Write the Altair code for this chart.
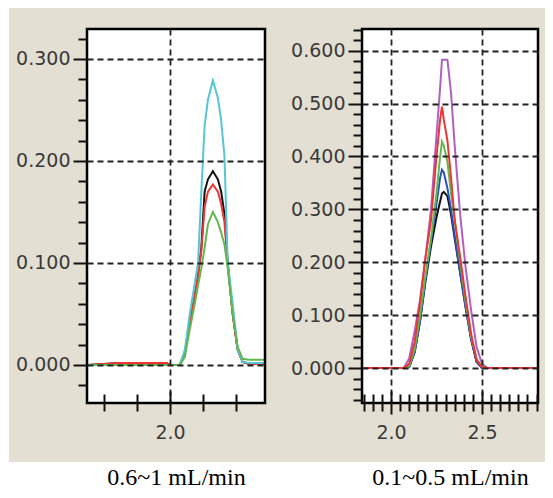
import altair as alt
import pandas as pd

# ---------------- data: left panel (0.6~1 mL/min) ----------------
left_x = [1.75, 1.85, 1.99, 2.00, 2.03, 2.045, 2.06, 2.075, 2.085, 2.095, 2.105,
          2.115, 2.13, 2.145, 2.155, 2.165, 2.175, 2.19, 2.205, 2.22, 2.24, 2.288]
left_cyan = [0, 0, 0, 0, 0, 0.015, 0.05, 0.08, 0.10, 0.17, 0.235,
             0.26, 0.279, 0.262, 0.24, 0.205, 0.10, 0.06, 0.015, 0.003, 0.002, 0.002]
left_black = [0, 0.002, 0.002, 0, 0, 0.012, 0.04, 0.068, 0.088, 0.115, 0.17,
              0.182, 0.19, 0.182, 0.17, 0.148, 0.10, 0.05, 0.015, 0.003, 0.001, 0.001]
left_red = [0, 0.002, 0.002, 0, 0, 0.012, 0.04, 0.068, 0.088, 0.112, 0.155,
            0.17, 0.177, 0.17, 0.158, 0.14, 0.098, 0.05, 0.015, 0.003, 0.001, 0.001]
left_green = [0, 0, 0, 0, 0, 0.008, 0.035, 0.06, 0.078, 0.095, 0.115,
              0.138, 0.15, 0.14, 0.13, 0.118, 0.095, 0.05, 0.018, 0.006, 0.005, 0.005]

# ---------------- data: right panel (0.1~0.5 mL/min) ----------------
right_x = [1.84, 2.0, 2.07, 2.1, 2.13, 2.16, 2.19, 2.22, 2.25, 2.27, 2.28,
           2.29, 2.31, 2.33, 2.35, 2.38, 2.41, 2.44, 2.47, 2.5, 2.53, 2.807]
right_purple = [0, 0, 0, 0.018, 0.07, 0.13, 0.21, 0.30, 0.44, 0.53, 0.583,
                0.583, 0.583, 0.52, 0.42, 0.29, 0.19, 0.11, 0.04, 0.008, 0, 0]
right_black = [0, 0, 0, 0.002, 0.03, 0.09, 0.165, 0.23, 0.285, 0.315, 0.33,
               0.333, 0.325, 0.29, 0.245, 0.18, 0.115, 0.055, 0.012, 0, 0, 0]
right_blue = [0, 0, 0, 0.002, 0.03, 0.09, 0.17, 0.24, 0.31, 0.36, 0.375,
              0.37, 0.34, 0.30, 0.25, 0.18, 0.115, 0.055, 0.012, 0, 0, 0]
right_green = [0, 0, 0, 0.003, 0.035, 0.10, 0.175, 0.245, 0.33, 0.40, 0.428,
               0.42, 0.39, 0.33, 0.28, 0.2, 0.125, 0.06, 0.018, 0.002, 0, 0]
right_red = [0, 0, 0, 0.008, 0.05, 0.125, 0.21, 0.28, 0.40, 0.47, 0.494,
             0.47, 0.43, 0.36, 0.28, 0.21, 0.135, 0.065, 0.015, 0.002, 0, 0]

# axis ticks
left_x_major = [2.0]
left_x_minor = [1.8, 1.9, 2.1, 2.2]
left_y_major = [0.0, 0.1, 0.2, 0.3]
left_y_minor = [-0.02, 0.02, 0.04, 0.06, 0.08, 0.12, 0.14, 0.16, 0.18, 0.22, 0.24,
                0.26, 0.28, 0.32]
right_x_major = [2.0, 2.5]
right_x_minor = [1.85, 1.9, 1.95, 2.05, 2.1, 2.15, 2.2, 2.25, 2.3, 2.35, 2.4, 2.45,
                 2.55, 2.6, 2.65, 2.7, 2.75, 2.8]
right_y_major = [0.0, 0.1, 0.2, 0.3, 0.4, 0.5, 0.6]
right_y_minor = [-0.06, -0.04, -0.02, 0.02, 0.04, 0.06, 0.08, 0.12, 0.14, 0.16, 0.18,
                 0.22, 0.24, 0.26, 0.28, 0.32, 0.34, 0.36, 0.38, 0.42, 0.44, 0.46,
                 0.48, 0.52, 0.54, 0.56, 0.58, 0.62, 0.64]

left_title = "0.6~1 mL/min"
right_title = "0.1~0.5 mL/min"

series_names = ["L1", "L2", "L3", "L4", "R1", "R2", "R3", "R4", "R5"]
series_colors = ["#111111", "#ee3535", "#55c6d6", "#62b84e",
                 "#b060c0", "#111111", "#2a50c0", "#62b84e", "#ee3535"]

GRAY = "#E3DFD2"
H = 374


def long_df(xs, named):
    rows = []
    for name, ys in named:
        for x, y in zip(xs, ys):
            rows.append({"x": x, "y": y, "s": name})
    return pd.DataFrame(rows)


left_df = long_df(left_x, [("L1", left_black), ("L2", left_red),
                           ("L3", left_cyan), ("L4", left_green)])
right_df = long_df(right_x, [("R1", right_purple), ("R2", right_black),
                             ("R3", right_blue), ("R4", right_green), ("R5", right_red)])

one = pd.DataFrame({"k": [0]})
color_scale = alt.Scale(domain=series_names, range=series_colors)


def panel(df, W, xdom, ydom, xmaj, xmin, ymaj, ymin, title, gx1, gx2):
    xs = alt.Scale(domain=xdom, nice=False, zero=False)
    ys = alt.Scale(domain=ydom, nice=False, zero=False)
    gray = alt.Chart(one).mark_rect(color=GRAY).encode(
        x=alt.value(gx1), x2=alt.value(gx2), y=alt.value(-21), y2=alt.value(H + 59))
    white = alt.Chart(one).mark_rect(color="white").encode(
        x=alt.value(0), x2=alt.value(W), y=alt.value(0), y2=alt.value(H))
    lines = alt.Chart(df).mark_line(strokeWidth=2).encode(
        x=alt.X("x:Q", scale=xs,
                axis=alt.Axis(values=xmaj, format=".1f", orient="bottom", offset=-12,
                              tickSize=23, labelPadding=9, grid=True, domain=False,
                              title=title, titlePadding=23, zindex=2)),
        y=alt.Y("y:Q", scale=ys,
                axis=alt.Axis(values=ymaj, format=".3f", orient="left", tickSize=14,
                              labelPadding=3, grid=True, domain=False, title=None,
                              zindex=2)),
        color=alt.Color("s:N", scale=color_scale, legend=None),
    )
    minor = alt.Chart(df).mark_point(opacity=0).encode(
        x=alt.X("x:Q", scale=xs,
                axis=alt.Axis(values=xmin, orient="bottom", offset=-9, tickSize=17,
                              labels=False, grid=False, domain=False, title=None,
                              zindex=2)),
        y=alt.Y("y:Q", scale=ys,
                axis=alt.Axis(values=ymin, orient="left", tickSize=9,
                              labels=False, grid=False, domain=False, title=None,
                              zindex=2)),
    )
    border = alt.Chart(one).mark_rect(fill="white", fillOpacity=0, stroke="black",
                                      strokeWidth=2.5).encode(
        x=alt.value(0), x2=alt.value(W), y=alt.value(0), y2=alt.value(H))
    return (alt.layer(gray, white, lines, minor, border)
            .resolve_scale(x="shared", y="shared")
            .resolve_axis(x="independent", y="independent")
            .properties(width=W, height=H))


left = panel(left_df, 178, [1.7485, 2.2879], [-0.0373, 0.3294],
             left_x_major, left_x_minor, left_y_major, left_y_minor, left_title, -78, 300)
right = panel(right_df, 176, [1.8407, 2.8077], [-0.066, 0.641],
              right_x_major, right_x_minor, right_y_major, right_y_minor, right_title, -77, 183)

chart = (alt.hconcat(left, right, spacing=97, bounds="flush")
         .resolve_scale(x="independent", y="independent", color="shared")
         .properties(padding={"left": 1, "top": 0, "right": 0, "bottom": 0})
         .configure_view(strokeWidth=0)
         .configure_axis(labelFont="DejaVu Sans", labelFontSize=19, labelColor="#3a3a3a",
                         tickColor="#111111", tickWidth=2, gridColor="#222222",
                         gridDash=[6, 4], gridWidth=1.8,
                         titleFont="Liberation Serif", titleFontSize=24,
                         titleFontWeight="normal", titleColor="#000000"))

chart.save("out.html", embed_options={"renderer": "svg", "actions": False})
